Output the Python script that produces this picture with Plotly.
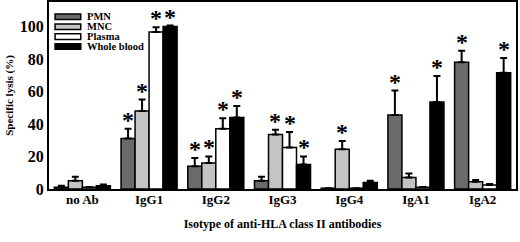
import plotly.graph_objects as go

categories = ["no Ab", "IgG1", "IgG2", "IgG3", "IgG4", "IgA1", "IgA2"]
series_names = ["PMN", "MNC", "Plasma", "Whole blood"]
pmn = [1, 31, 14, 5, 0.5, 45.5, 78]
pmn_err = [1, 6, 5, 2.5, 0, 15, 7]
mnc = [5, 48, 16, 33.5, 24.5, 7, 4.5]
mnc_err = [2.5, 7, 4, 3, 5, 2.5, 1]
plasma = [1, 96.5, 37, 25.5, 0.5, 1, 2.5]
plasma_err = [0.3, 3, 6.5, 9.5, 0, 0.3, 0.5]
whole = [2, 100, 44, 15, 4, 53.5, 71.5]
whole_err = [0.7, 0.5, 7, 5, 1, 16, 9]
# significance markers (*), per series per category
sig_pmn = [0, 1, 1, 0, 0, 1, 1]
sig_mnc = [0, 1, 1, 1, 1, 0, 0]
sig_plasma = [0, 1, 1, 1, 0, 0, 0]
sig_whole = [0, 1, 1, 1, 0, 1, 1]

values = [pmn, mnc, plasma, whole]
errors = [pmn_err, mnc_err, plasma_err, whole_err]
sigs = [sig_pmn, sig_mnc, sig_plasma, sig_whole]
colors = ["#6a6a6a", "#c4c4c4", "#ffffff", "#000000"]

FONT = "Liberation Serif"
fig = go.Figure()
for name, v, e, c in zip(series_names, values, errors, colors):
    fig.add_trace(go.Bar(
        x=categories, y=v, name=name, showlegend=False,
        marker=dict(color=c, line=dict(color="black", width=1.5)),
        error_y=dict(type="data", array=e, arrayminus=[0] * len(e), symmetric=False,
                     color="black", thickness=2, width=3.5),
    ))

bargap = 0.16
bw = (1 - bargap) / 4
annotations = []
shapes = []
for i, (v, e, s) in enumerate(zip(values, errors, sigs)):
    for j in range(len(categories)):
        if s[j]:
            annotations.append(dict(
                x=j + (i - 1.5) * bw, y=v[j] + e[j], xref="x", yref="y",
                text="<b>*</b>", showarrow=False, yanchor="bottom",
                yshift=-6, font=dict(family=FONT, size=24, color="black")))

# compact legend drawn inside the plot area (top-left)
leg_y = [0.921, 0.868, 0.815, 0.762]
for name, c, yy in zip(series_names, colors, leg_y):
    shapes.append(dict(type="rect", xref="paper", yref="paper",
                       x0=0.013, x1=0.068, y0=yy - 0.015, y1=yy + 0.015,
                       fillcolor=c, line=dict(color="black", width=1.5)))
    annotations.append(dict(x=0.079, y=yy, xref="paper", yref="paper",
                            text="<b>%s</b>" % name, showarrow=False,
                            xanchor="left", yanchor="middle", borderpad=0,
                            font=dict(family=FONT, size=10.5, color="black")))

fig.update_layout(
    width=520, height=242,
    margin=dict(l=49, r=4, t=2, b=53),
    barmode="group", bargap=bargap, bargroupgap=0,
    plot_bgcolor="white", paper_bgcolor="white",
    font=dict(family=FONT, color="black"),
    annotations=annotations, shapes=shapes, showlegend=False,
    xaxis=dict(
        showline=True, linecolor="black", linewidth=2, mirror=True,
        automargin=False, ticklabelstandoff=-3,
        tickfont=dict(family=FONT, size=13, weight="bold"),
        title=dict(text="<b>Isotype of anti-HLA class II antibodies</b>",
                   font=dict(family=FONT, size=12), standoff=14),
        ticks="",
    ),
    yaxis=dict(
        range=[0, 115], showline=True, linecolor="black", linewidth=2, mirror=True,
        showgrid=False, zeroline=False, tickvals=[0, 20, 40, 60, 80, 100],
        automargin=False,
        tickfont=dict(family=FONT, size=16, weight="bold"), ticks="",
        title=dict(text="<b>Specific lysis (%)</b>", font=dict(family=FONT, size=11), standoff=4),
    ),
)
fig.write_html("out.html", config={"displayModeBar": False},
               post_script="document.body.style.margin='0';")
